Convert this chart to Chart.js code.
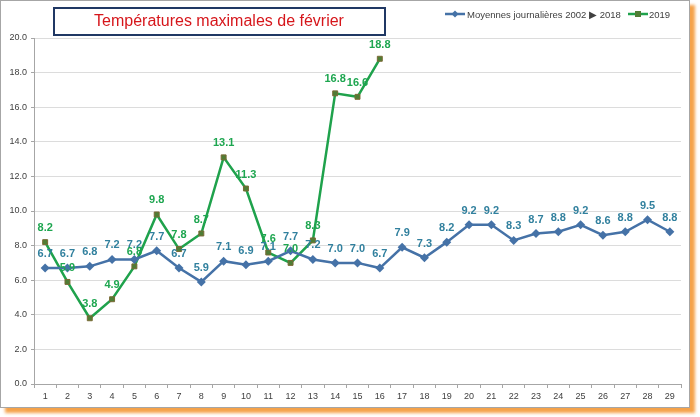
<!DOCTYPE html>
<html>
<head>
<meta charset="utf-8">
<script src="https://cdn.jsdelivr.net/npm/chart.js@4"></script>
<style>
  body { margin: 0; background: #fff; }
  #frame {
    position: absolute; left: 0; top: 0;
    width: 688px; height: 406px;
    border: 1px solid #a6a6a6;
    box-shadow: 5px 5px 3px #f5a24a;
    background: #fff;
  }
  canvas { display: block; }
</style>
</head>
<body>
<div id="frame"><canvas id="chart" width="688" height="406"></canvas></div>
<script>
// days of february
var days = [];
for (var d = 1; d <= 29; d++) days.push(String(d));

// daily average max temperatures 2002 -> 2018
var moyennes = [6.7, 6.7, 6.8, 7.2, 7.2, 7.7, 6.7, 5.9, 7.1, 6.9, 7.1, 7.7, 7.2, 7.0, 7.0,
                6.7, 7.9, 7.3, 8.2, 9.2, 9.2, 8.3, 8.7, 8.8, 9.2, 8.6, 8.8, 9.5, 8.8];
// 2019 values (only up to the 16th)
var annee2019 = [8.2, 5.9, 3.8, 4.9, 6.8, 9.8, 7.8, 8.7, 13.1, 11.3, 7.6, 7.0, 8.3, 16.8, 16.6, 18.8];

var titleText = "Températures maximales de février";
var legendBlue = "Moyennes journalières 2002 \u25B6 2018";
var legendGreen = "2019";

var BLUE = "#4572a7";
var BLUE_LABEL = "#31809e";
var GREEN = "#1fa24c";
var GREEN_LABEL = "#1ea650";
var SQUARE_FILL = "#4f7d35";
var SQUARE_BORDER = "#7a6a35";

// draw the value above each point
var valueLabels = {
  id: "valueLabels",
  afterDatasetsDraw(chart) {
    const ctx = chart.ctx;
    ctx.save();
    ctx.textAlign = "center";
    ctx.textBaseline = "middle";
    chart.data.datasets.forEach((ds, i) => {
      const meta = chart.getDatasetMeta(i);
      ctx.fillStyle = ds.labelColor;
      ctx.font = "bold 11px 'Liberation Sans', Arial, sans-serif";
      meta.data.forEach((pt, j) => {
        if (ds.data[j] == null) return;
        ctx.fillText(ds.data[j].toFixed(1), pt.x, pt.y - 14);
      });
    });
    ctx.restore();
  }
};

// title box and legend at the top
var header = {
  id: "header",
  afterDraw(chart) {
    const ctx = chart.ctx;
    ctx.save();
    // title box
    ctx.strokeStyle = "#203864";
    ctx.lineWidth = 2;
    ctx.strokeRect(53, 7, 331, 27);
    ctx.fillStyle = "#d6161b";
    ctx.font = "16px 'Liberation Sans', Arial, sans-serif";
    ctx.textAlign = "center";
    ctx.textBaseline = "middle";
    ctx.fillText(titleText, 218, 21);

    // legend
    ctx.textAlign = "left";
    ctx.font = "9.5px 'Liberation Sans', Arial, sans-serif";
    ctx.fillStyle = "#404040";
    var y = 13;
    ctx.strokeStyle = BLUE;
    ctx.lineWidth = 2.5;
    ctx.beginPath(); ctx.moveTo(444, y); ctx.lineTo(464, y); ctx.stroke();
    ctx.fillStyle = BLUE;
    ctx.beginPath();
    ctx.moveTo(454, y - 3.5); ctx.lineTo(457.5, y); ctx.lineTo(454, y + 3.5); ctx.lineTo(450.5, y);
    ctx.closePath(); ctx.fill();
    ctx.fillStyle = "#404040";
    ctx.fillText(legendBlue, 466, y + 1);

    ctx.strokeStyle = GREEN;
    ctx.beginPath(); ctx.moveTo(627, y); ctx.lineTo(647, y); ctx.stroke();
    ctx.fillStyle = SQUARE_FILL;
    ctx.fillRect(634, y - 3, 6, 6);
    ctx.fillStyle = "#404040";
    ctx.fillText(legendGreen, 648, y + 1);
    ctx.restore();
  }
};

var ctx = document.getElementById("chart").getContext("2d");
var chart = new Chart(ctx, {
  type: "line",
  data: {
    labels: days,
    datasets: [
      {
        label: legendBlue,
        data: moyennes,
        borderColor: BLUE,
        backgroundColor: BLUE,
        borderWidth: 2.5,
        pointStyle: "rectRot",
        pointRadius: 4.5,
        pointBorderWidth: 0,
        labelColor: BLUE_LABEL,
        tension: 0
      },
      {
        label: legendGreen,
        data: annee2019,
        borderColor: GREEN,
        backgroundColor: SQUARE_FILL,
        pointBorderColor: SQUARE_BORDER,
        borderWidth: 2.5,
        pointStyle: "rect",
        pointRadius: 3.5,
        pointBorderWidth: 1,
        labelColor: GREEN_LABEL,
        tension: 0
      }
    ]
  },
  options: {
    responsive: false,
    animation: false,
    layout: { padding: { top: 37, right: 8, left: 0, bottom: 0 } },
    plugins: {
      legend: { display: false },
      title: { display: false },
      tooltip: { enabled: false }
    },
    scales: {
      x: {
        offset: true,
        grid: { display: true, drawOnChartArea: false, drawTicks: true, tickLength: 4, color: "#a6a6a6", offset: true },
        border: { color: "#a6a6a6" },
        ticks: { color: "#404040", font: { size: 9, family: "'Liberation Sans', Arial, sans-serif" }, padding: 3, autoSkip: false, maxRotation: 0 },
        afterFit: function (s) { s.height = 23; }
      },
      y: {
        min: 0,
        max: 20,
        ticks: {
          stepSize: 2,
          color: "#404040",
          font: { size: 9, family: "'Liberation Sans', Arial, sans-serif" },
          padding: 4,
          callback: function (v) { return v.toFixed(1); }
        },
        grid: { color: "#dcdcdc", tickColor: "#a6a6a6", tickLength: 3 },
        border: { color: "#a6a6a6" },
        afterFit: function (s) { s.width = 33; }
      }
    }
  },
  plugins: [valueLabels, header]
});
</script>
</body>
</html>
